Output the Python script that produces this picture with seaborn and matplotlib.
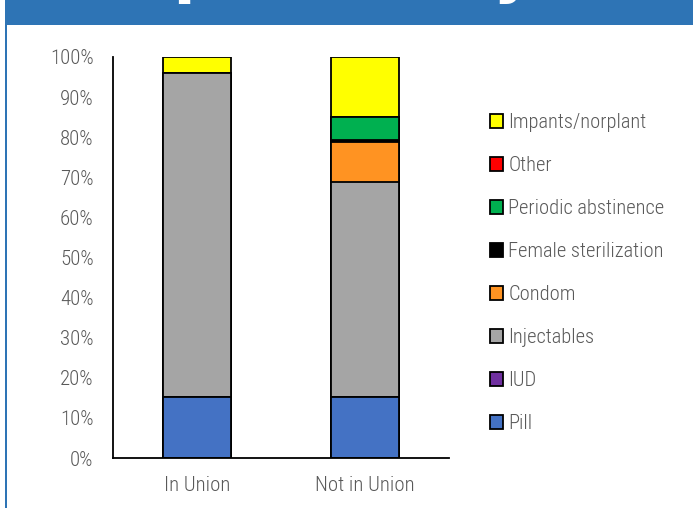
import pandas as pd
import numpy as np
import matplotlib.pyplot as plt
import seaborn as sns
from matplotlib.patches import Patch, Rectangle

# ---------------------------------------------------------
# Data (percent of users, by union status)
# ---------------------------------------------------------
groups = ['In Union', 'Not in Union']
methods = ['Pill', 'IUD', 'Injectables', 'Condom', 'Female sterilization',
           'Periodic abstinence', 'Other', 'Impants/norplant']
pill = [15.2, 15.2]
iud = [0.0, 0.0]
injectables = [80.8, 53.7]
condom = [0.0, 10.0]
female_sterilization = [0.0, 0.4]
periodic_abstinence = [0.0, 5.7]
other = [0.0, 0.0]
implants = [4.0, 15.0]

colors = {
    'Pill': '#4472C4',
    'IUD': '#7030A0',
    'Injectables': '#A5A5A5',
    'Condom': '#FF9322',
    'Female sterilization': '#000000',
    'Periodic abstinence': '#00B050',
    'Other': '#FF0000',
    'Impants/norplant': '#FFFF00',
}

df = pd.DataFrame({
    'group': groups,
    'Pill': pill, 'IUD': iud, 'Injectables': injectables, 'Condom': condom,
    'Female sterilization': female_sterilization,
    'Periodic abstinence': periodic_abstinence, 'Other': other,
    'Impants/norplant': implants,
})
# normalise to 100% stacked
df[methods] = df[methods].div(df[methods].sum(axis=1), axis=0) * 100
cum = df[methods].cumsum(axis=1)

sns.set_theme(style="white")
plt.rcParams['font.family'] = ['Roboto Condensed', 'Liberation Sans Narrow', 'Roboto', 'DejaVu Sans']
plt.rcParams['font.weight'] = 'light'
text_grey = '#595959'

fig = plt.figure(figsize=(6.93, 5.08), dpi=100)
ax = fig.add_axes([0.163, 0.0984, 0.485, 0.7894])

# draw cumulative bars from the top series down so they stack
for m in reversed(methods):
    sns.barplot(x=df['group'], y=cum[m], order=groups, color=colors[m],
                width=0.4, edgecolor='black', linewidth=1.3, ax=ax, saturation=1)

ax.set_ylim(0, 100)
ax.set_xlim(-0.5, 1.5)
ax.set_yticks(np.arange(0, 101, 10))
ax.set_yticklabels([f'{v}%' for v in range(0, 101, 10)], color=text_grey, fontsize=15)
ax.set_xticks([-0.5, 0.5, 1.5])
ax.set_xticklabels([])
ax.set_xticks([0, 1], minor=True)
ax.set_xticklabels(groups, minor=True, color=text_grey, fontsize=15)
ax.tick_params(axis='x', which='minor', length=0, pad=13)
ax.tick_params(axis='x', which='major', direction='in', length=5, width=1.3, color='black')
ax.tick_params(axis='y', direction='in', length=6, width=1.3, color='black', pad=14)
ax.set_xlabel('')
ax.set_ylabel('')
for s in ['top', 'right']:
    ax.spines[s].set_visible(False)
for s in ['left', 'bottom']:
    ax.spines[s].set_color('black')
    ax.spines[s].set_linewidth(1.3)

handles = [Patch(facecolor=colors[m], edgecolor='black', linewidth=1.3, label=m)
           for m in reversed(methods)]
fig.legend(handles=handles, loc='center left', bbox_to_anchor=(0.680, 0.462),
           frameon=False, fontsize=14.8, labelcolor=text_grey,
           handlelength=0.65, handleheight=0.65, handletextpad=0.25, labelspacing=1.17)

# banner and frame
banner = '#2E74B5'
fig.patches.append(Rectangle((5 / 693, 1 - 25 / 508), 1, 25 / 508, transform=fig.transFigure,
                             facecolor=banner, edgecolor='none', zorder=0))
fig.patches.append(Rectangle((5 / 693, 0), 2.2 / 693, 1, transform=fig.transFigure,
                             facecolor=banner, edgecolor='none', zorder=0))
# title sits mostly above the visible area, as in the source slide
fig.text(-156 / 693, 1 + 10 / 508, 'Contraceptives, by union status', color='white',
         fontsize=47, fontweight='bold', ha='left', va='baseline', family='DejaVu Sans')

fig.savefig('out.png', dpi=100)
